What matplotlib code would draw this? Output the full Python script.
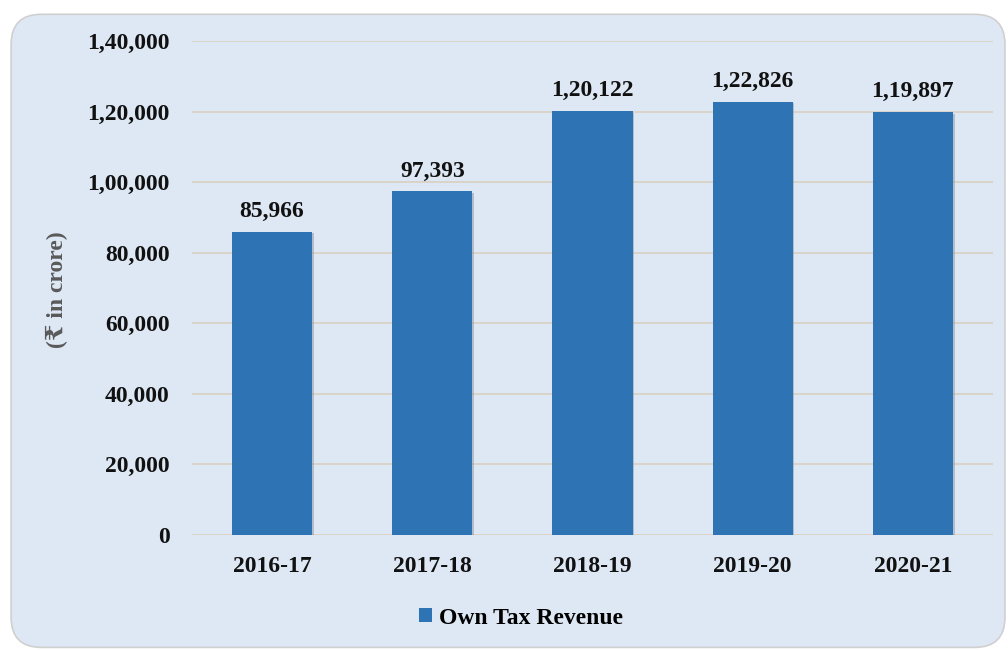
import matplotlib
matplotlib.use("Agg")
import matplotlib.pyplot as plt
import matplotlib.patheffects as pe
from matplotlib.patches import FancyBboxPatch, Patch

years = ["2016-17", "2017-18", "2018-19", "2019-20", "2020-21"]
own_tax = [85966, 97393, 120122, 122826, 119897]
value_labels = ["85,966", "97,393", "1,20,122", "1,22,826", "1,19,897"]
yticks = [0, 20000, 40000, 60000, 80000, 100000, 120000, 140000]
ytick_labels = ["0", "20,000", "40,000", "60,000", "80,000", "1,00,000", "1,20,000", "1,40,000"]

plt.rcParams['font.family'] = ['Liberation Serif', 'DejaVu Serif', 'DejaVu Sans']
plt.rcParams['font.weight'] = 'bold'

bar_col = "#2e74b5"
bg = "#dee8f4"
fs = 17

fig = plt.figure(figsize=(10.08, 6.5), dpi=100)
# rounded background panel
panel = FancyBboxPatch((0.011, 0.004), 0.986, 0.974, transform=fig.transFigure,
                       boxstyle="round,pad=0,rounding_size=0.03",
                       facecolor=bg, edgecolor="#d0d0d0", linewidth=1.2,
                       mutation_aspect=10.08 / 6.5, zorder=-5)
fig.patches.append(panel)

ax = fig.add_axes([0.1905, 0.177, 0.7946, 0.76])
ax.set_facecolor("none")

bars = ax.bar(range(len(years)), own_tax, width=0.5, color=bar_col, zorder=3)
for b in bars:
    b.set_path_effects([pe.SimplePatchShadow(offset=(1.2, -1.2), shadow_rgbFace="#7f8c99", alpha=0.45),
                        pe.Normal()])

for i, (v, lab) in enumerate(zip(own_tax, value_labels)):
    ax.annotate(lab, (i, v), xytext=(0, 7), textcoords="offset points",
                ha="center", va="bottom", fontsize=fs, fontweight="bold", color="#111111")

ax.set_xlim(-0.5, len(years) - 0.5)
ax.set_ylim(0, 140000)
ax.set_yticks(yticks)
ax.set_yticklabels(ytick_labels)
ax.set_xticks(range(len(years)))
ax.set_xticklabels(years)
ax.tick_params(axis="y", length=0, pad=16, labelsize=fs, labelcolor="#111111")
ax.tick_params(axis="x", length=0, pad=15, labelsize=fs, labelcolor="#111111")
for t in ax.get_xticklabels() + ax.get_yticklabels():
    t.set_fontweight("bold")

ax.grid(axis="y", color="#d9d1c5", linewidth=1.3, zorder=0)
for s in ax.spines.values():
    s.set_visible(False)

fig.text(0.057, 0.555, "(₹ in crore)", rotation=90, ha="center", va="center",
         fontsize=fs, fontweight="bold", color="#595959")

handle = Patch(facecolor=bar_col, label="Own Tax Revenue")
leg = fig.legend(handles=[handle], loc="center",
                 bbox_to_anchor=(0.517, 0.049), frameon=False, fontsize=fs,
                 handlelength=0.55, handleheight=0.55, handletextpad=0.3)
for t in leg.get_texts():
    t.set_fontweight("bold")

fig.savefig("out.png", dpi=100)
